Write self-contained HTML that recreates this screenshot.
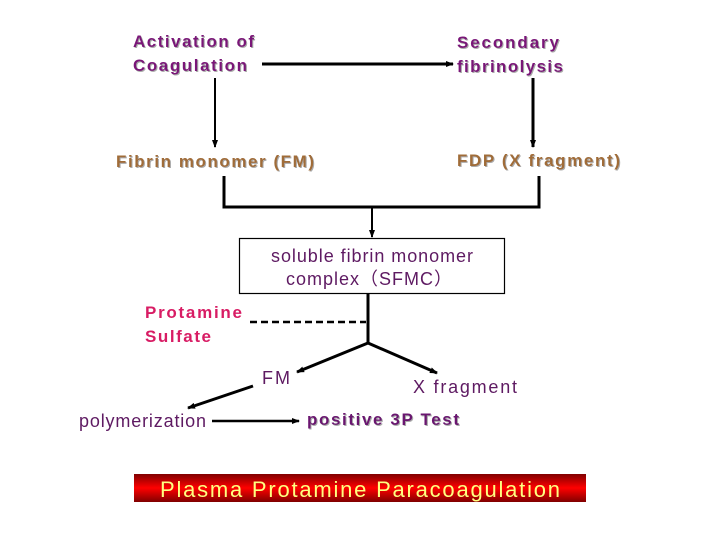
<!DOCTYPE html>
<html><head><meta charset="utf-8"><style>
html,body{margin:0;padding:0;background:#fff;}
svg{display:block;}
text{font-family:"Liberation Sans","Noto Sans CJK SC",sans-serif;}
.b{font-weight:bold;}
</style></head><body>
<svg width="720" height="540" viewBox="0 0 720 540" xmlns="http://www.w3.org/2000/svg">
<defs>
<marker id="a" markerWidth="8" markerHeight="8" refX="7" refY="4" orient="auto" markerUnits="userSpaceOnUse"><path d="M0,1 L8,4 L0,7 z" fill="#000"/></marker>
<linearGradient id="g" x1="0" y1="0" x2="0" y2="1"><stop offset="0" stop-color="#800000"/><stop offset="0.5" stop-color="#ff0000"/><stop offset="1" stop-color="#800000"/></linearGradient>
<filter id="s"><feDropShadow dx="1" dy="1" stdDeviation="0.3" flood-color="#aaa"/></filter>
</defs>
<g class="b" font-size="17" fill="#7a1478" filter="url(#s)">
<text x="133" y="47" textLength="121" lengthAdjust="spacing">Activation of</text>
<text x="133" y="71" textLength="114" lengthAdjust="spacing">Coagulation</text>
<text x="457" y="48" textLength="102" lengthAdjust="spacing">Secondary</text>
<text x="457" y="72" textLength="106" lengthAdjust="spacing">fibrinolysis</text>
</g>
<g class="b" font-size="17" fill="#a06c38" filter="url(#s)">
<text x="116" y="167" textLength="198" lengthAdjust="spacing">Fibrin monomer (FM)</text>
<text x="457" y="166" textLength="163" lengthAdjust="spacing">FDP (X fragment)</text>
</g>
<g stroke="#000" fill="none">
<line x1="262" y1="64" x2="453" y2="64" stroke-width="3" marker-end="url(#a)"/>
<line x1="215" y1="78" x2="215" y2="147" stroke-width="2" marker-end="url(#a)"/>
<line x1="533" y1="78" x2="533" y2="147" stroke-width="3" marker-end="url(#a)"/>
<polyline points="224,176 224,207 539,207 539,176" stroke-width="3"/>
<line x1="372" y1="207" x2="372" y2="237" stroke-width="2" marker-end="url(#a)"/>
<rect x="239.5" y="238.5" width="265" height="55" stroke-width="1.2"/>
<line x1="368" y1="293" x2="368" y2="343" stroke-width="3"/>
<line x1="250" y1="322" x2="366" y2="322" stroke-width="2.5" stroke-dasharray="7,4"/>
<line x1="368" y1="343" x2="297" y2="372" stroke-width="3" marker-end="url(#a)"/>
<line x1="368" y1="343" x2="437" y2="373" stroke-width="3" marker-end="url(#a)"/>
<line x1="253" y1="386" x2="188" y2="408" stroke-width="3" marker-end="url(#a)"/>
<line x1="212" y1="421" x2="299" y2="421" stroke-width="2.5" marker-end="url(#a)"/>
</g>
<g font-size="18" fill="#5e1a62">
<text x="271" y="262" textLength="202" lengthAdjust="spacing">soluble fibrin monomer</text>
<text x="286" y="285" textLength="166" lengthAdjust="spacing">complex（SFMC）</text>
<text x="262" y="384" textLength="28" lengthAdjust="spacing">FM</text>
<text x="413" y="393" textLength="104" lengthAdjust="spacing">X fragment</text>
<text x="79" y="427" textLength="127" lengthAdjust="spacing">polymerization</text>
</g>
<text class="b" x="307" y="425" font-size="17" fill="#6a1470" filter="url(#s)" textLength="152" lengthAdjust="spacing">positive 3P Test</text>
<g class="b" font-size="17" fill="#d81c64">
<text x="145" y="318" textLength="97" lengthAdjust="spacing">Protamine</text>
<text x="145" y="342" textLength="66" lengthAdjust="spacing">Sulfate</text>
</g>
<rect x="134" y="474" width="452" height="28" fill="url(#g)"/>
<text x="160" y="497" font-size="22" fill="#ffff80" textLength="400" lengthAdjust="spacing">Plasma Protamine Paracoagulation</text>
</svg>
</body></html>
